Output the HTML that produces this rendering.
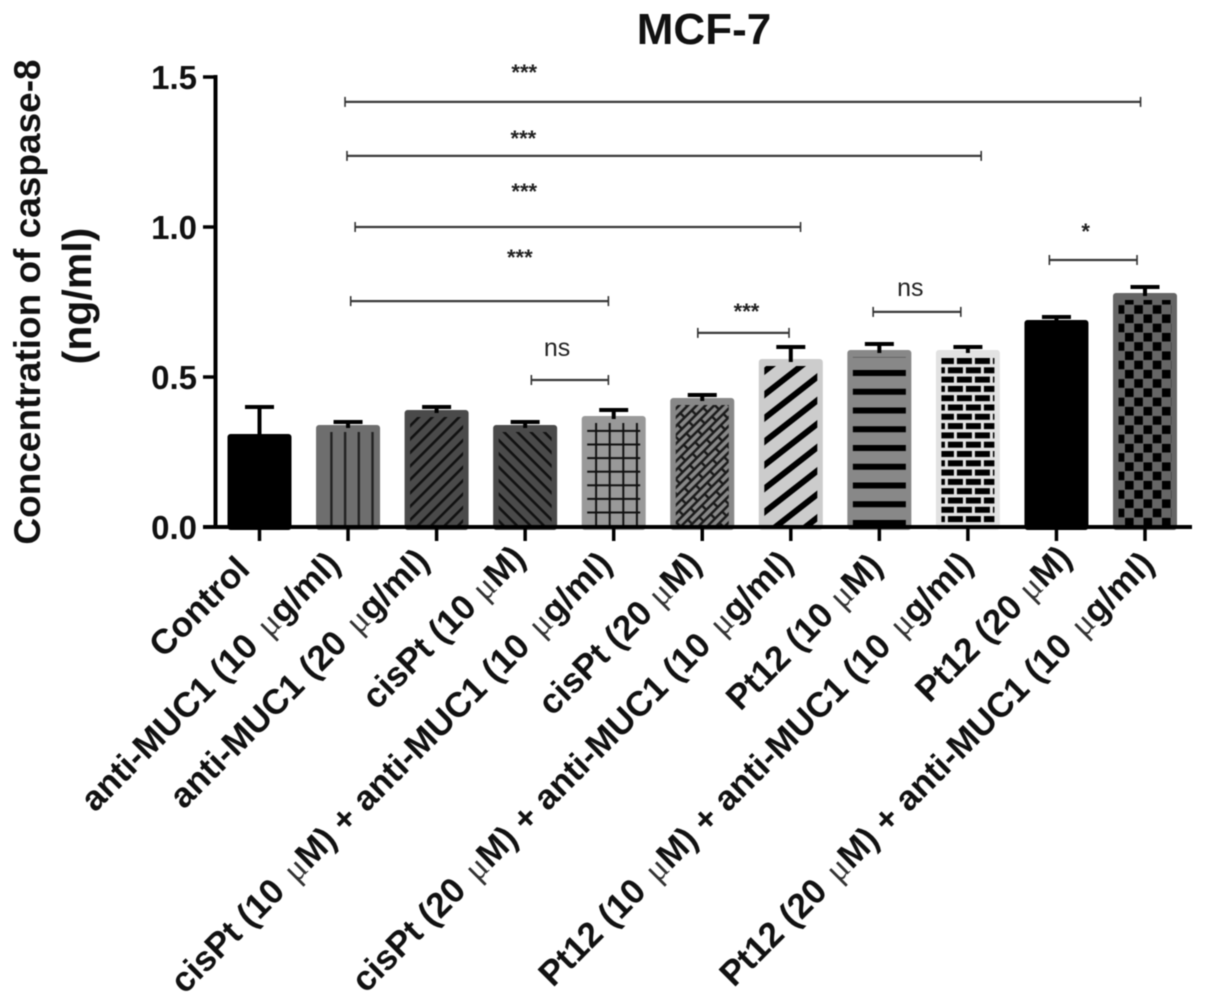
<!DOCTYPE html>
<html lang="en">
<head>
<meta charset="utf-8">
<title>MCF-7 caspase-8 concentration</title>
<style>
html,body{margin:0;padding:0;background:#fff;width:1205px;height:1005px;overflow:hidden}
svg{display:block;filter:blur(.65px)}
text{font-family:"Liberation Sans",sans-serif}
</style>
</head>
<body>
<svg id="chart" xmlns="http://www.w3.org/2000/svg" width="1205" height="1005" viewBox="0 0 1205 1005">
<defs>
<pattern id="p-vert" patternUnits="userSpaceOnUse" x="-10" y="0" width="13.7" height="20"><rect x="5.85" y="0" width="2.4" height="20" fill="#222"/></pattern>
<pattern id="p-hatch-up" patternUnits="userSpaceOnUse" width="20" height="9.5" patternTransform="rotate(-45)"><rect x="0" y="3.5" width="20" height="2.6" fill="#111"/></pattern>
<pattern id="p-hatch-down" patternUnits="userSpaceOnUse" width="20" height="9.5" patternTransform="rotate(45)"><rect x="0" y="3.5" width="20" height="2.6" fill="#111"/></pattern>
<pattern id="p-grid" patternUnits="userSpaceOnUse" x="-10.8" y="-7.7" width="13.6" height="13.6"><rect x="5.8" y="0" width="2" height="13.6" fill="#111"/><rect x="0" y="5.8" width="13.6" height="2" fill="#111"/></pattern>
<pattern id="p-weave" patternUnits="userSpaceOnUse" width="20" height="12.4" patternTransform="rotate(-45)"><rect width="20" height="12.4" fill="#888"/><path d="M0 3.1H20M0 9.3H20M5 3.1V9.3M15 0V3.1M15 9.3V12.4" stroke="#1a1a1a" stroke-width="2.4" fill="none"/></pattern>
<pattern id="p-thick" patternUnits="userSpaceOnUse" width="30" height="18.5" patternTransform="rotate(-38)"><rect x="0" y="6" width="30" height="6" fill="#000"/></pattern>
<pattern id="p-stripe" patternUnits="userSpaceOnUse" x="-30" y="-157" width="60" height="18.75"><rect x="0" y="0" width="60" height="6" fill="#000"/></pattern>
<pattern id="p-brick" patternUnits="userSpaceOnUse" x="-29" y="-169" width="18" height="18.6"><rect x="0" y="0" width="15" height="6" fill="#000"/><rect x="9" y="9.3" width="15" height="6" fill="#000"/><rect x="-9" y="9.3" width="15" height="6" fill="#000"/></pattern>
<pattern id="p-check" patternUnits="userSpaceOnUse" x="-20" y="-212.6" width="18.5" height="18.5"><rect x="0" y="0" width="8.6" height="8.6" fill="#000"/><rect x="9.25" y="9.25" width="8.6" height="8.6" fill="#000"/></pattern>
</defs>
<text x="704" y="44" font-size="44" font-weight="700" text-anchor="middle" fill="#111">MCF-7</text>
<text transform="translate(40 302) rotate(-90)" font-size="37" font-weight="700" text-anchor="middle" fill="#111">Concentration of caspase-8</text>
<text transform="translate(91 296) rotate(-90)" font-size="41" font-weight="700" text-anchor="middle" fill="#111">(ng/ml)</text>
<g id="bars"></g>
<g id="axes"></g>
<g id="brackets"></g>
</svg>
<script>
const categories = ["Control","anti-MUC1 (10\u00a0\u03bcg/ml)","anti-MUC1 (20\u00a0\u03bcg/ml)","cisPt (10\u00a0\u03bcM)","cisPt (10\u00a0\u03bcM) + anti-MUC1 (10\u00a0\u03bcg/ml)","cisPt (20\u00a0\u03bcM)","cisPt (20\u00a0\u03bcM) + anti-MUC1 (10\u00a0\u03bcg/ml)","Pt12 (10\u00a0\u03bcM)","Pt12 (10\u00a0\u03bcM) + anti-MUC1 (10\u00a0\u03bcg/ml)","Pt12 (20\u00a0\u03bcM)","Pt12 (20\u00a0\u03bcM) + anti-MUC1 (10\u00a0\u03bcg/ml)"];
const meanValues = [0.30,0.33,0.38,0.33,0.36,0.42,0.55,0.58,0.58,0.68,0.77];
const errorValues = [0.10,0.02,0.02,0.02,0.03,0.02,0.05,0.03,0.02,0.02,0.03];
const yTickValues = [0,0.5,1,1.5];
const yTickLabels = ["0.0","0.5","1.0","1.5"];
const bracketStarts = [0.966,0.988,1.08,1.03,3.07,4.95,6.93,8.92];
const bracketEnds = [9.95,8.15,6.11,3.94,3.94,5.98,7.92,9.91];
const bracketLevels = [1.417,1.237,1.0,0.753,0.49,0.647,0.717,0.89];
const bracketLabels = ["***","***","***","***","ns","***","ns","*"];
const bracketLabelCats = [2.99,2.98,2.99,2.94,3.36,5.5,7.35,9.33];
const bracketLabelLevels = [1.53,1.31,1.134,0.914,0.593,0.734,0.793,1.0];
const barFills = ["#000","#6e6e6e","#4a4a4a","#4a4a4a","#999","#888","#ccc","#888","#e2e2e2","#000","#666"];
const barPatterns = [null,"p-vert","p-hatch-up","p-hatch-down","p-grid","p-weave","p-thick","p-stripe","p-brick",null,"p-check"];
const labelNudgeX = [-8,-6,-5.6,2,0,1,4,5,7,17,11];
const labelAnchorY = [571,566,563,560,566,566,565,568,566,560,566];

const NS = "http://www.w3.org/2000/svg";
const x = i => 259.5 + i * 88.55;
const y = v => 527 - v * 300;
function make(tag, parent, attrs) {
  const el = document.createElementNS(NS, tag);
  for (const k in attrs) el.setAttribute(k, attrs[k]);
  parent.appendChild(el);
  return el;
}
const barsG = document.getElementById("bars");
const axesG = document.getElementById("axes");
const brG = document.getElementById("brackets");

meanValues.forEach((v, i) => {
  const g = make("g", barsG, {transform: `translate(${x(i)} ${y(0)})`});
  
  
  const h = v * 300;
  const err = (v + errorValues[i]) * 300;
  const bar = make("rect", g, {x: -29, y: -h, width: 58, height: h, fill: barFills[i], stroke: barFills[i], "stroke-width": 6, "stroke-linejoin": "round"});
  
  
  if (barPatterns[i]) {
    const fillEl = make("rect", g, {x: -26.5, y: -h + 4, width: 53, height: Math.max(0, h - 4), fill: `url(#${barPatterns[i]})`});
    
    
  }
  const stem = make("line", g, {x1: 0, x2: 0, y1: -h, y2: -err, stroke: "#000", "stroke-width": 4});
  
  
  const cap = make("line", g, {x1: -14.5, x2: 14.5, y1: -err, y2: -err, stroke: "#000", "stroke-width": 4});
  
  
});

const yAxis = make("line", axesG, {x1: 215.5, x2: 215.5, y1: y(1.5) - 2, y2: y(0) + 2, stroke: "#000", "stroke-width": 4});


const xAxis = make("line", axesG, {x1: 203, x2: 1192, y1: y(0), y2: y(0), stroke: "#000", "stroke-width": 4});



yTickValues.forEach((v, i) => {
  const t = make("line", axesG, {x1: 203, x2: 215, y1: y(v), y2: y(v), stroke: "#000", "stroke-width": 3.5});
  
  
  const l = make("text", axesG, {x: 197, y: y(v) + 12, "font-size": 33, "font-weight": 700, "text-anchor": "end", fill: "#111"});
  
  
  l.textContent = yTickLabels[i];
});

categories.forEach((c, i) => {
  const t = make("line", axesG, {x1: x(i), x2: x(i), y1: y(0), y2: y(0) + 14, stroke: "#000", "stroke-width": 3.5});
  
  
  const l = make("text", axesG, {transform: `translate(${x(i) + labelNudgeX[i]} ${labelAnchorY[i]}) rotate(-45)`, "font-size": 35, "font-weight": 700, "text-anchor": "end", fill: "#111"});
  
  
  c.split("\u03bc").forEach((part, k) => {
    if (k > 0) {
      const mu = make("tspan", l, {"font-family": '"Liberation Serif",serif', "font-weight": 400, fill: "#333", dx: part.indexOf("g") === 0 || c.indexOf("+") > 0 ? 4 : 0});
      mu.textContent = "\u03bc";
    }
    l.appendChild(document.createTextNode(part));
  });
});

bracketLevels.forEach((lv, i) => {
  const x1 = x(bracketStarts[i]), x2 = x(bracketEnds[i]), yy = y(lv);
  const line = make("line", brG, {x1, x2, y1: yy, y2: yy, stroke: "#3a3a3a", "stroke-width": 2.2});
  
  
  [x1, x2].forEach(px => {
    const end = make("line", brG, {x1: px, x2: px, y1: yy - 5, y2: yy + 5, stroke: "#333", "stroke-width": 1.6});
    
    
  });
  const isNs = bracketLabels[i] === "ns";
  const size = isNs ? 25 : 22;
  const t = make("text", brG, {x: x(bracketLabelCats[i]), y: y(bracketLabelLevels[i]) + (isNs ? 7 : 12), "font-size": size, "font-weight": isNs ? 400 : 700, "text-anchor": "middle", fill: "#222"});
  
  
  t.textContent = bracketLabels[i];
});
</script>
</body>
</html>
